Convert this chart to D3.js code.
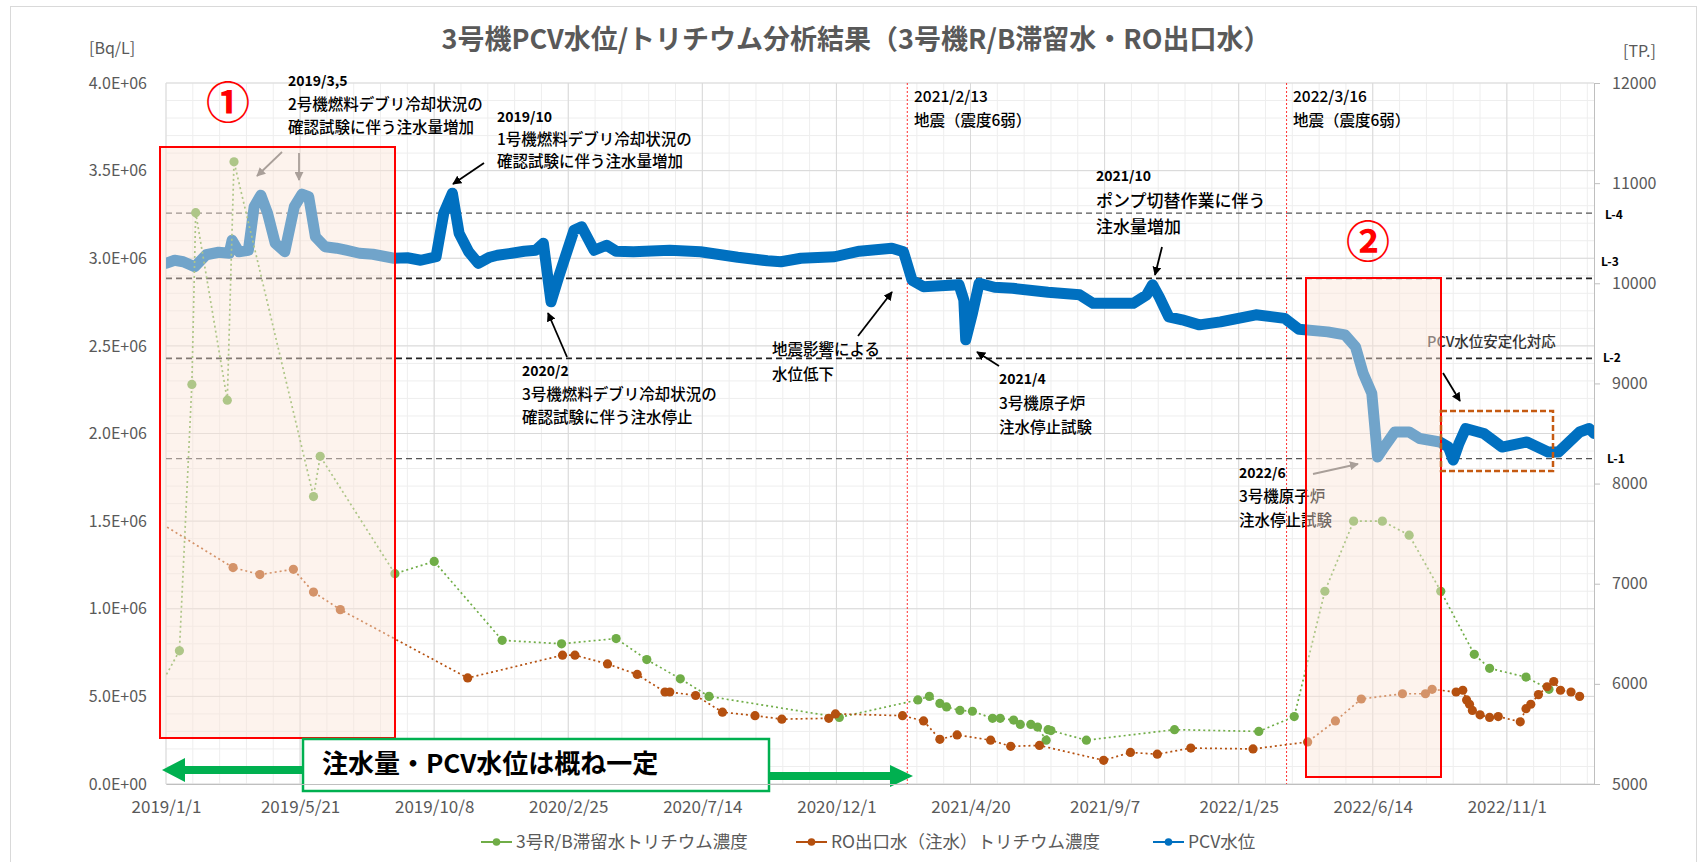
<!DOCTYPE html>
<html>
<head>
<meta charset="utf-8">
<script src="https://cdn.jsdelivr.net/npm/d3@7"></script>
<style>
  body { margin: 0; background: #fff; }
  svg { display: block; font-family: "Noto Sans CJK JP", "Noto Sans", sans-serif; }
</style>
</head>
<body>
<svg id="chart" width="1708" height="862"></svg>
<script>
// --- data ---
const xTickDates = ["2019-01-01","2019-05-21","2019-10-08","2020-02-25","2020-07-14","2020-12-01",
                    "2021-04-20","2021-09-07","2022-01-25","2022-06-14","2022-11-01"]
const leftTicks = [0, 5e5, 1e6, 1.5e6, 2e6, 2.5e6, 3e6, 3.5e6, 4e6]
const rightTicks = [5000, 6000, 7000, 8000, 9000, 10000, 11000, 12000]
const eventDates = ["2021-02-13", "2022-03-16"]
const levelNames = ["L-1", "L-2", "L-3", "L-4"]
const levelValues = [8250, 9250, 10050, 10700]

// PCV水位 (right axis, T.P. mm)
const pcvDates = ["2019-01-01","2019-01-10","2019-01-19","2019-01-31","2019-02-12","2019-02-25","2019-03-08","2019-03-11",
  "2019-03-18","2019-03-28","2019-04-03","2019-04-10","2019-04-17","2019-04-25","2019-05-05","2019-05-15","2019-05-23",
  "2019-05-30","2019-06-06","2019-06-16","2019-06-28","2019-07-08","2019-07-22","2019-08-05","2019-08-27","2019-09-10",
  "2019-09-24","2019-10-10","2019-10-18","2019-10-27","2019-11-03","2019-11-13","2019-11-23","2019-12-05","2019-12-13",
  "2019-12-28","2020-01-10","2020-01-22","2020-01-30","2020-02-07","2020-02-15","2020-03-02","2020-03-10","2020-03-23",
  "2020-04-05","2020-04-15","2020-05-03","2020-06-10","2020-07-12","2020-08-20","2020-09-20","2020-10-04","2020-10-25",
  "2020-11-29","2020-12-25","2021-01-28","2021-02-09","2021-02-18","2021-03-02","2021-03-20","2021-04-08","2021-04-13",
  "2021-04-15","2021-04-22","2021-04-29","2021-05-15","2021-06-03","2021-07-10","2021-08-12","2021-08-26","2021-10-07",
  "2021-10-21","2021-10-27","2021-11-03","2021-11-13","2021-11-27","2021-12-15","2022-01-06","2022-02-12","2022-03-14",
  "2022-03-29","2022-04-28","2022-05-16","2022-05-27","2022-06-04","2022-06-13","2022-06-19","2022-06-26","2022-07-07",
  "2022-07-22","2022-08-02","2022-08-23","2022-09-01","2022-09-06","2022-09-12","2022-09-19","2022-10-08","2022-10-27",
  "2022-11-22","2022-12-14","2022-12-25","2023-01-05","2023-01-16","2023-01-26","2023-01-31"]
const pcvLevel = [10200,10230,10215,10165,10285,10310,10300,10430,
  10315,10330,10765,10880,10700,10400,10315,10765,10890,
  10865,10465,10365,10350,10330,10300,10290,10250,10255,
  10230,10265,10700,10900,10500,10315,10200,10260,10280,
  10300,10320,10330,10400,9815,10065,10530,10565,10330,
  10380,10320,10315,10330,10315,10260,10225,10215,10250,
  10265,10320,10350,10315,10030,9965,9975,9985,9835,
  9435,9700,10000,9960,9950,9910,9885,9800,9800,
  9885,9985,9865,9665,9635,9585,9615,9685,9650,
  9540,9515,9485,9365,9100,8900,8265,8365,8515,
  8515,8450,8415,8365,8235,8400,8550,8500,8365,
  8415,8315,8315,8415,8515,8550,8500]

// 3号R/B滞留水トリチウム濃度 (left axis, Bq/L)
const rbDates = ["2018-12-25","2019-01-15","2019-01-28","2019-02-01","2019-03-06","2019-03-13","2019-06-04","2019-06-11",
  "2019-08-28","2019-10-08","2019-12-18","2020-02-18","2020-04-15","2020-05-17","2020-06-21","2020-07-21","2020-12-04",
  "2021-02-24","2021-03-08","2021-03-19","2021-03-26","2021-04-09","2021-04-22","2021-05-13","2021-05-21","2021-06-04",
  "2021-06-11","2021-06-22","2021-06-29","2021-07-08","2021-07-10","2021-07-13","2021-08-19","2021-11-19","2022-02-15",
  "2022-03-24","2022-04-25","2022-05-25","2022-06-24","2022-07-22","2022-08-24","2022-09-28","2022-10-14","2022-11-21",
  "2022-12-15"]
const rbTritium = [5.5e5,7.6e5,2.28e6,3.26e6,2.19e6,3.55e6,1.64e6,1.87e6,
  1.20e6,1.27e6,8.2e5,8.0e5,8.3e5,7.1e5,6.0e5,5.0e5,3.8e5,
  4.8e5,5.0e5,4.6e5,4.4e5,4.2e5,4.15e5,3.75e5,3.75e5,3.65e5,
  3.4e5,3.4e5,3.25e5,2.5e5,3.1e5,3.05e5,2.5e5,3.1e5,3.0e5,
  3.85e5,1.10e6,1.50e6,1.50e6,1.42e6,1.10e6,7.4e5,6.6e5,6.1e5,
  5.4e5]

// RO出口水（注水）トリチウム濃度 (left axis, Bq/L)
const roDates = ["2018-12-02","2019-03-12","2019-04-09","2019-05-14","2019-06-04","2019-07-02","2019-11-12","2020-02-19",
  "2020-03-03","2020-04-06","2020-05-07","2020-06-05","2020-06-10","2020-07-07","2020-08-04","2020-09-07","2020-10-05",
  "2020-11-23","2020-11-30","2021-02-08","2021-03-02","2021-03-19","2021-04-06","2021-05-11","2021-06-01","2021-07-01",
  "2021-09-06","2021-10-04","2021-11-01","2021-12-06","2022-02-09","2022-04-07","2022-05-06","2022-06-02","2022-07-15",
  "2022-08-08","2022-08-15","2022-09-09","2022-09-16","2022-09-20","2022-09-23","2022-09-26","2022-10-04","2022-10-14",
  "2022-10-23","2022-11-15","2022-11-21","2022-11-26","2022-12-04","2022-12-13","2022-12-20","2022-12-27","2023-01-07",
  "2023-01-16"]
const roTritium = [1.57e6,1.235e6,1.195e6,1.225e6,1.095e6,9.95e5,6.05e5,7.35e5,
  7.35e5,6.85e5,6.25e5,5.25e5,5.25e5,5.05e5,4.1e5,3.9e5,3.7e5,
  3.75e5,4.0e5,3.9e5,3.6e5,2.55e5,2.8e5,2.5e5,2.15e5,2.2e5,
  1.35e5,1.8e5,1.7e5,2.05e5,2.0e5,2.4e5,3.6e5,4.85e5,5.15e5,
  5.15e5,5.4e5,5.25e5,5.35e5,4.8e5,4.55e5,4.2e5,3.95e5,3.8e5,
  3.85e5,3.55e5,4.3e5,4.55e5,5.1e5,5.55e5,5.85e5,5.35e5,5.25e5,
  5.0e5]

// --- layout ---
const parse = d3.timeParse("%Y-%m-%d")
const plotL = 166, plotR = 1594, plotT = 83, plotB = 784
const svg = d3.select("#chart")
const grey = "#595959"

const x = d3.scaleTime().domain([parse("2019-01-01"), parse("2023-01-31")]).range([plotL, plotR])
const yL = d3.scaleLinear().domain([0, 4e6]).range([plotB, plotT])
const yR = d3.scaleLinear().domain([5000, 12000]).range([plotB, plotT])

const pcv = pcvDates.map((d, i) => ({date: parse(d), v: pcvLevel[i]}))
const rb = rbDates.map((d, i) => ({date: parse(d), v: rbTritium[i]}))
const ro = roDates.map((d, i) => ({date: parse(d), v: roTritium[i]}))

// outer frame
svg.append("rect").attr("x", 10.5).attr("y", 6.5).attr("width", 1686).attr("height", 880)
  .attr("fill", "#fff").attr("stroke", "#d9d9d9")

const defs = svg.append("defs")
defs.append("clipPath").attr("id", "plot")
  .append("rect").attr("x", plotL).attr("y", plotT).attr("width", plotR - plotL).attr("height", plotB - plotT)

// gridlines
const grid = svg.append("g")
const minorX = d3.range(0, 1492, 28).map(k => d3.timeDay.offset(x.domain()[0], k))
grid.selectAll(".mx").data(minorX).join("line")
  .attr("x1", d => x(d)).attr("x2", d => x(d)).attr("y1", plotT).attr("y2", plotB)
  .attr("stroke", "#eeeeee")
grid.selectAll(".my").data(d3.range(0, 4e6 + 1, 1e5)).join("line")
  .attr("x1", plotL).attr("x2", plotR).attr("y1", d => yL(d)).attr("y2", d => yL(d))
  .attr("stroke", "#eeeeee")
grid.selectAll(".gx").data(xTickDates.map(parse)).join("line")
  .attr("x1", d => x(d)).attr("x2", d => x(d)).attr("y1", plotT).attr("y2", plotB)
  .attr("stroke", "#d9d9d9")
grid.selectAll(".gy").data(leftTicks).join("line")
  .attr("x1", plotL).attr("x2", plotR).attr("y1", d => yL(d)).attr("y2", d => yL(d))
  .attr("stroke", "#d9d9d9")

// L-1..L-4 levels
const lv = svg.append("g")
levelValues.forEach((v, i) => {
  const strong = levelNames[i] == "L-3" || levelNames[i] == "L-2"
  lv.append("line").attr("x1", plotL).attr("x2", plotR).attr("y1", yR(v)).attr("y2", yR(v))
    .attr("stroke", strong ? "#222" : "#555").attr("stroke-width", strong ? 1.8 : 1.2)
    .attr("stroke-dasharray", "6,4")
})
const levelLabelDx = {"L-1": 13, "L-2": 9, "L-3": 7, "L-4": 11}
const levelLabelDy = {"L-1": 0, "L-2": -1, "L-3": -16, "L-4": 2}
levelValues.forEach((v, i) => {
  lv.append("text").attr("x", plotR + levelLabelDx[levelNames[i]]).attr("y", yR(v) + levelLabelDy[levelNames[i]])
    .attr("dy", "0.35em").attr("font-size", 12).attr("font-weight", "bold").attr("fill", "#000")
    .text(levelNames[i])
})

// earthquake lines
svg.selectAll(".eq").data(eventDates.map(parse)).join("line")
  .attr("x1", d => x(d)).attr("x2", d => x(d)).attr("y1", plotT).attr("y2", plotB)
  .attr("stroke", "#ff3030").attr("stroke-width", 1).attr("stroke-dasharray", "2,2")

// series
const plot = svg.append("g").attr("clip-path", "url(#plot)")
plot.append("path").datum(pcv)
  .attr("d", d3.line().x(d => x(d.date)).y(d => yR(d.v)))
  .attr("fill", "none").attr("stroke", "#0070c0").attr("stroke-width", 11)
  .attr("stroke-linejoin", "round").attr("stroke-linecap", "round")

function dotted(data, colour) {
  plot.append("path").datum(data)
    .attr("d", d3.line().x(d => x(d.date)).y(d => yL(d.v)))
    .attr("fill", "none").attr("stroke", colour).attr("stroke-width", 1.7)
    .attr("stroke-dasharray", "2,3")
  plot.selectAll(null).data(data).join("circle")
    .attr("cx", d => x(d.date)).attr("cy", d => yL(d.v)).attr("r", 4.6).attr("fill", colour)
}
dotted(rb, "#70ad47")
dotted(ro, "#b5500f")

// annotations
const ann = svg.append("g").attr("fill", "#000")
function note(x0, y0, lines, size, gap) {
  lines.forEach((l, i) => {
    ann.append("text").attr("x", x0).attr("y", y0 + i * gap).attr("dy", "0.35em")
      .attr("font-size", l.bold ? 14 : size).attr("font-weight", l.bold ? "bold" : 500)
      .attr("fill", l.fill || "#000").text(l.t)
  })
}
note(288, 81, [{t: "2019/3,5", bold: true}, {t: "2号機燃料デブリ冷却状況の"}, {t: "確認試験に伴う注水量増加"}], 15.5, 23.5)
note(497, 117, [{t: "2019/10", bold: true}, {t: "1号機燃料デブリ冷却状況の"}, {t: "確認試験に伴う注水量増加"}], 15.5, 22.5)
note(914, 97, [{t: "2021/2/13"}, {t: "地震（震度6弱）"}], 15.5, 24)
note(1293, 97, [{t: "2022/3/16"}, {t: "地震（震度6弱）"}], 15.5, 24)
note(1096, 176, [{t: "2021/10", bold: true}, {t: "ポンプ切替作業に伴う"}, {t: "注水量増加"}], 17, 25.5)
note(522, 371, [{t: "2020/2", bold: true}, {t: "3号機燃料デブリ冷却状況の"}, {t: "確認試験に伴う注水停止"}], 15.5, 23.5)
note(772, 350, [{t: "地震影響による"}, {t: "水位低下"}], 15.5, 24.5)
note(999, 379, [{t: "2021/4", bold: true}, {t: "3号機原子炉"}, {t: "注水停止試験"}], 15.5, 24.5)
note(1239, 473, [{t: "2022/6", bold: true}, {t: "3号機原子炉"}, {t: "注水停止試験"}], 15.5, 24)
note(1427, 342, [{t: "PCV水位安定化対応", fill: "#333"}], 14.5, 0)

// arrows
;[["ah-k", "#000"], ["ah-g", "#666"]].forEach(([id, c]) => {
  defs.append("marker").attr("id", id).attr("viewBox", "0 0 10 10").attr("refX", 9).attr("refY", 5)
    .attr("markerWidth", 5).attr("markerHeight", 5).attr("orient", "auto")
    .append("path").attr("d", "M0,0L10,5L0,10z").attr("fill", c)
})
const arrows = [
  [282, 152, 257, 176, "ah-g", "#666"], [299, 153, 299, 180, "ah-g", "#666"],
  [484, 163, 453, 184, "ah-k", "#000"], [567, 357, 548, 313, "ah-k", "#000"],
  [858, 336, 892, 292, "ah-k", "#000"], [999, 366, 977, 352, "ah-k", "#000"],
  [1162, 247, 1155, 275, "ah-k", "#000"], [1313, 474, 1358, 464, "ah-g", "#666"],
  [1443, 373, 1460, 401, "ah-k", "#000"]
]
svg.append("g").selectAll("line").data(arrows).join("line")
  .attr("x1", d => d[0]).attr("y1", d => d[1]).attr("x2", d => d[2]).attr("y2", d => d[3])
  .attr("stroke", d => d[5]).attr("stroke-width", 1.8).attr("marker-end", d => `url(#${d[4]})`)

// highlighted periods
const boxes = [[160, 147, 395, 738], [1306, 278, 1441, 777]]
boxes.forEach(b => {
  svg.append("rect").attr("x", b[0]).attr("y", b[1]).attr("width", b[2] - b[0]).attr("height", b[3] - b[1])
    .attr("fill", "#fbe5d6").attr("fill-opacity", 0.45).attr("stroke", "#ff0000").attr("stroke-width", 2)
})
svg.append("rect").attr("x", 1441).attr("y", 411).attr("width", 112).attr("height", 60)
  .attr("fill", "none").attr("stroke", "#c55a11").attr("stroke-width", 2.5).attr("stroke-dasharray", "6,3")
svg.append("text").attr("x", 228).attr("y", 104).attr("text-anchor", "middle").attr("dy", "0.35em")
  .attr("font-size", 44).attr("font-weight", "bold").attr("fill", "#ff0000").text("①")
svg.append("text").attr("x", 1368).attr("y", 243).attr("text-anchor", "middle").attr("dy", "0.35em")
  .attr("font-size", 44).attr("font-weight", "bold").attr("fill", "#ff0000").text("②")

// "概ね一定" callout with green arrows
const green = "#00b050"
svg.append("path").attr("fill", green)
  .attr("d", "M303,766L185,766L185,758L162,770L185,782L185,774L303,774Z")
svg.append("path").attr("fill", green)
  .attr("d", "M769,772L890,772L890,765L913,776L890,787L890,780L769,780Z")
svg.append("rect").attr("x", 303).attr("y", 739).attr("width", 466).attr("height", 52)
  .attr("fill", "#fff").attr("stroke", green).attr("stroke-width", 2.5)
svg.append("text").attr("x", 322).attr("y", 764).attr("dy", "0.35em").attr("font-size", 26)
  .attr("font-weight", "bold").attr("fill", "#000").text("注水量・PCV水位は概ね一定")

// axes
function sci(d) {
  const [m, e] = d.toExponential(1).split("e")
  return m + "E" + e[0] + e.slice(1).padStart(2, "0")
}
const ax = svg.append("g")
const gL = ax.append("g").attr("transform", `translate(${plotL},0)`)
  .call(d3.axisLeft(yL).tickValues(leftTicks).tickFormat(sci).tickSize(0).tickPadding(19))
const gR = ax.append("g").attr("transform", `translate(${plotR},0)`)
  .call(d3.axisRight(yR).tickValues(rightTicks).tickFormat(d3.format("d")).tickSize(6).tickPadding(12))
const gB = ax.append("g").attr("transform", `translate(0,${plotB})`)
  .call(d3.axisBottom(x).tickValues(xTickDates.map(parse)).tickFormat(d3.timeFormat("%Y/%-m/%-d"))
    .tickSize(0).tickPadding(17))
gL.select(".domain").remove()
;[gL, gR, gB].forEach(g => {
  g.selectAll("text").attr("fill", grey).attr("font-size", 16).attr("font-family", "Noto Sans CJK JP")
  g.selectAll("line").attr("stroke", "#bfbfbf")
  g.select(".domain").attr("stroke", "#bfbfbf")
})
gB.selectAll("text").attr("font-size", 17)

svg.append("text").attr("x", 89).attr("y", 48).attr("dy", "0.35em").attr("font-size", 16)
  .attr("fill", grey).text("[Bq/L]")
svg.append("text").attr("x", 1623).attr("y", 51).attr("dy", "0.35em").attr("font-size", 16)
  .attr("fill", grey).text("[TP.]")

// title
svg.append("text").attr("x", 856).attr("y", 40).attr("text-anchor", "middle").attr("dy", "0.35em")
  .attr("font-size", 27).attr("font-weight", "bold").attr("fill", grey)
  .text("3号機PCV水位/トリチウム分析結果（3号機R/B滞留水・RO出口水）")

// legend
const legendItems = [
  {name: "3号R/B滞留水トリチウム濃度", colour: "#70ad47", x: 481},
  {name: "RO出口水（注水）トリチウム濃度", colour: "#b5500f", x: 796},
  {name: "PCV水位", colour: "#0070c0", x: 1153}
]
const lg = svg.append("g")
legendItems.forEach(it => {
  lg.append("line").attr("x1", it.x).attr("x2", it.x + 31).attr("y1", 842).attr("y2", 842)
    .attr("stroke", it.colour).attr("stroke-width", 2)
  lg.append("circle").attr("cx", it.x + 15.5).attr("cy", 842).attr("r", 3.8).attr("fill", it.colour)
  lg.append("text").attr("x", it.x + 35).attr("y", 842).attr("dy", "0.35em").attr("font-size", 17.5)
    .attr("fill", grey).text(it.name)
})
</script>
</body>
</html>
